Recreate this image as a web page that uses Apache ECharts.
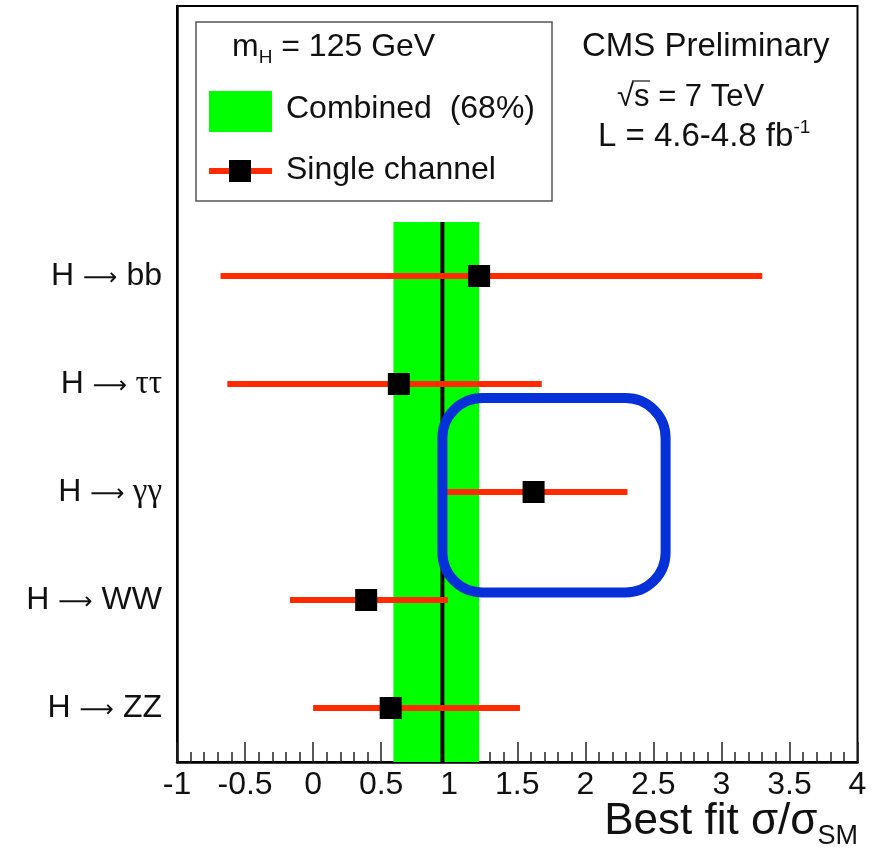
<!DOCTYPE html>
<html>
<head>
<meta charset="utf-8">
<script src="https://cdn.jsdelivr.net/npm/echarts@6/dist/echarts.min.js"></script>
<style>
  html, body { margin: 0; padding: 0; background: #fff; }
  #chart { width: 876px; height: 857px; }
</style>
</head>
<body>
<div id="chart"></div>
<script>
// Decay channels, top to bottom, and their row positions on the y scale
const channels = ['bb', 'ττ', 'γγ', 'WW', 'ZZ'];
const channelRows = [5, 4, 3, 2, 1];

// Best-fit signal strength per channel with its 68% interval
const bestFit = [1.22, 0.63, 1.62, 0.39, 0.57];
const fitLow = [-0.68, -0.63, 0.98, -0.17, 0.00];
const fitHigh = [3.30, 1.68, 2.31, 0.99, 1.52];

// Combined result and its 68% band
const combinedBest = 0.95;
const combinedLow = 0.59;
const combinedHigh = 1.22;

// Axis range
const xMin = -1, xMax = 4, xStep = 0.5;
const yMin = 0.5, yMax = 7.5;

// Region highlighted around the diphoton channel (data units)
const highlight = { x0: 0.95, x1: 2.59, y0: 2.07, y1: 3.87 };

const FONT = 'Liberation Sans, Arial, Helvetica, sans-serif';
const SERIF = 'Liberation Serif, Times New Roman, serif';
const ARROW_FONT = 'DejaVu Sans, sans-serif';
const INK = '#111';
const RED = '#ff2a00';

const chart = echarts.init(document.getElementById('chart'), null, { renderer: 'canvas' });

const rowTop = Math.max(...channelRows) + 0.5;
const rowBottom = Math.min(...channelRows) - 0.5;

function channelLabel(v) {
  const i = channelRows.indexOf(v);
  if (i < 0) return '';
  const name = channels[i];
  const greek = /[\u03b1-\u03c9]/.test(name);
  return '{h|H }{a|\u27f6}{' + (greek ? 'g' : 'h') + '| ' + name + '}';
}

const option = {
  animation: false,
  backgroundColor: '#fff',
  grid: {
    left: 177, top: 6, width: 680.5, height: 756,
    containLabel: false, outerBoundsMode: 'none',
    show: true, borderColor: '#000', borderWidth: 2, backgroundColor: 'transparent'
  },
  xAxis: {
    type: 'value', min: xMin, max: xMax, interval: xStep,
    axisLine: { show: true, onZero: false, lineStyle: { color: '#000', width: 2.5 } },
    axisTick: { show: true, inside: true, length: 20, lineStyle: { color: '#222', width: 1.5 } },
    minorTick: { show: true, splitNumber: 5, length: 10, lineStyle: { color: '#222', width: 1.5 } },
    splitLine: { show: false },
    minorSplitLine: { show: false },
    axisLabel: {
      show: true, margin: 7, color: INK, fontFamily: FONT, fontSize: 32,
      showMinLabel: true, showMaxLabel: true,
      formatter: v => String(v)
    }
  },
  yAxis: {
    type: 'value', min: yMin, max: yMax,
    axisLine: { show: true, onZero: false, lineStyle: { color: '#000', width: 2.5 } },
    axisTick: { show: false },
    splitLine: { show: false },
    axisLabel: {
      show: true, margin: 15, customValues: channelRows,
      formatter: channelLabel,
      rich: {
        h: { fontFamily: FONT, fontSize: 32, color: INK },
        a: { fontFamily: ARROW_FONT, fontSize: 24, color: INK, padding: [6, 0, 0, 0] },
        g: { fontFamily: SERIF, fontSize: 33, color: INK }
      }
    }
  },
  series: [
    {
      name: 'Combined',
      type: 'custom',
      z: 1,
      data: [[combinedLow, combinedHigh, combinedBest, rowBottom, rowTop]],
      encode: { x: [0, 1, 2], y: [3, 4] },
      renderItem: function (params, api) {
        const bl = api.coord([api.value(0), api.value(3)]);
        const tr = api.coord([api.value(1), api.value(4)]);
        const cb = api.coord([api.value(2), api.value(3)]);
        const ct = api.coord([api.value(2), api.value(4)]);
        return {
          type: 'group',
          children: [
            { type: 'rect', shape: { x: bl[0], y: tr[1], width: tr[0] - bl[0], height: bl[1] - tr[1] },
              style: { fill: '#00ff00' } },
            { type: 'line', shape: { x1: cb[0], y1: cb[1], x2: ct[0], y2: ct[1] },
              style: { stroke: '#000', lineWidth: 4 } }
          ]
        };
      },
      silent: true
    },
    {
      name: 'Single channel',
      type: 'custom',
      z: 2,
      data: channels.map((c, i) => [fitLow[i], fitHigh[i], channelRows[i]]),
      encode: { x: [0, 1], y: 2 },
      renderItem: function (params, api) {
        const a = api.coord([api.value(0), api.value(2)]);
        const b = api.coord([api.value(1), api.value(2)]);
        return { type: 'line', shape: { x1: a[0], y1: a[1], x2: b[0], y2: b[1] },
          style: { stroke: RED, lineWidth: 6, lineCap: 'butt' } };
      },
      silent: true
    },
    {
      name: 'Best fit',
      type: 'scatter',
      z: 3,
      symbol: 'rect',
      symbolSize: 22,
      itemStyle: { color: '#000', opacity: 1 },
      data: channels.map((c, i) => [bestFit[i], channelRows[i]]),
      silent: true
    }
  ],
  graphic: [
    // legend box
    { type: 'rect', z: 10, shape: { x: 196, y: 22, width: 356, height: 179 },
      style: { fill: '#fff', stroke: '#555', lineWidth: 1.5 } },
    { type: 'text', z: 11, x: 232, y: 47,
      style: { text: '{t|m}{s|H}{t| = 125 GeV}', verticalAlign: 'middle',
        rich: { t: { fontFamily: FONT, fontSize: 32, fill: INK },
                s: { fontFamily: FONT, fontSize: 19, fill: INK, padding: [22, 0, 0, 0] } } } },
    { type: 'rect', z: 11, shape: { x: 209, y: 91, width: 63, height: 41 }, style: { fill: '#00ff00' } },
    { type: 'text', z: 11, x: 286, y: 109,
      style: { text: 'Combined  (68%)', fontFamily: FONT, fontSize: 32, fill: INK, verticalAlign: 'middle' } },
    { type: 'line', z: 11, shape: { x1: 209, y1: 171, x2: 272, y2: 171 }, style: { stroke: RED, lineWidth: 6 } },
    { type: 'rect', z: 12, shape: { x: 229, y: 160, width: 22, height: 22 }, style: { fill: '#000' } },
    { type: 'text', z: 11, x: 286, y: 170,
      style: { text: 'Single channel', fontFamily: FONT, fontSize: 32, fill: INK, verticalAlign: 'middle' } },
    // experiment labels
    { type: 'text', z: 11, x: 582, y: 47,
      style: { text: 'CMS Preliminary', fontFamily: FONT, fontSize: 33, fill: INK, verticalAlign: 'middle' } },
    { type: 'text', z: 11, x: 617, y: 97,
      style: { text: '\u221as = 7 TeV', fontFamily: FONT, fontSize: 31, fill: INK, verticalAlign: 'middle' } },
    // bar over the s under the radical
    { type: 'line', z: 11, shape: { x1: 632, y1: 81, x2: 650, y2: 81 }, style: { stroke: INK, lineWidth: 1.2 } },
    { type: 'text', z: 11, x: 598, y: 137,
      style: { text: '{t|L = 4.6-4.8 fb}{s|-1}', verticalAlign: 'middle',
        rich: { t: { fontFamily: FONT, fontSize: 33, fill: INK },
                s: { fontFamily: FONT, fontSize: 19, fill: INK, padding: [0, 0, 18, 0] } } } },
    // axis title
    { type: 'text', z: 11, x: 858, y: 822,
      style: { text: '{t|Best fit \u03c3/\u03c3}{s|SM}', align: 'right', verticalAlign: 'middle',
        rich: { t: { fontFamily: FONT, fontSize: 44, fill: INK },
                s: { fontFamily: FONT, fontSize: 27, fill: INK, padding: [30, 0, 0, 0] } } } }
  ]
};

chart.setOption(option);

// Rounded highlight frame placed from data coordinates
const p0 = chart.convertToPixel({ gridIndex: 0 }, [highlight.x0, highlight.y1]);
const p1 = chart.convertToPixel({ gridIndex: 0 }, [highlight.x1, highlight.y0]);
option.graphic.push({
  type: 'rect', z: 20,
  shape: { x: p0[0], y: p0[1], width: p1[0] - p0[0], height: p1[1] - p0[1], r: 40 },
  style: { fill: 'none', stroke: '#0630d8', lineWidth: 10 }
});
chart.setOption({ graphic: option.graphic });
</script>
</body>
</html>
